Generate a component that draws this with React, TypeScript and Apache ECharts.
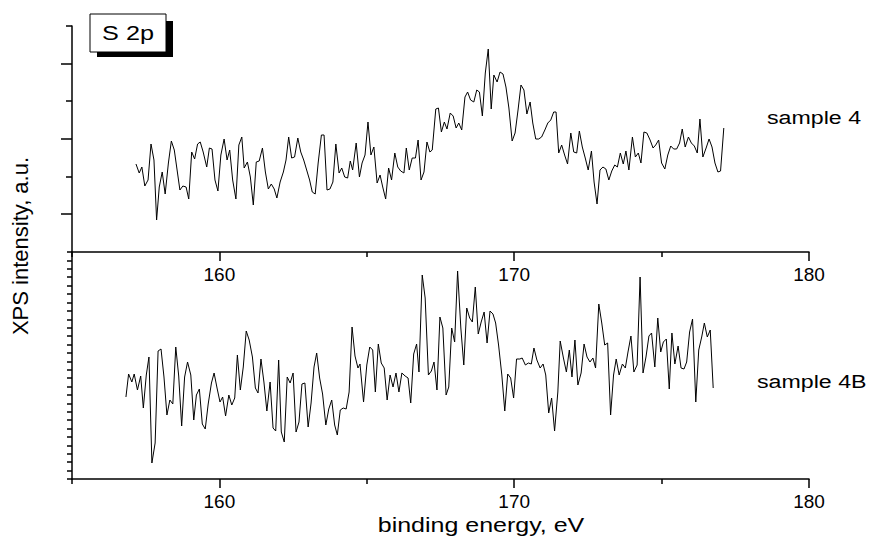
import React, { useEffect, useRef } from "react";
import * as echarts from "echarts";

// binding energy (eV), intensity (a.u.)
const sample4: [number, number][] = [
  [157.17, 88], [157.28, 79], [157.37, 85], [157.47, 66], [157.58, 72], [157.68, 108], [157.78, 92], [157.87, 32],
  [157.96, 65], [158.06, 80], [158.16, 58], [158.27, 89], [158.37, 111], [158.47, 102], [158.66, 62], [158.76, 66],
  [158.87, 65], [158.96, 53], [159.06, 100], [159.16, 93], [159.26, 108], [159.35, 110], [159.45, 100], [159.57, 85],
  [159.66, 104], [159.75, 103], [159.85, 72], [159.95, 61], [160.05, 97], [160.16, 113], [160.26, 92], [160.35, 102],
  [160.45, 72], [160.56, 53], [160.66, 107], [160.76, 115], [160.84, 84], [160.95, 90], [161.05, 75], [161.15, 47],
  [161.25, 90], [161.35, 91], [161.46, 104], [161.56, 80], [161.66, 63], [161.76, 68], [161.86, 63], [161.95, 54],
  [162.06, 70], [162.17, 80], [162.26, 92], [162.35, 115], [162.45, 94], [162.55, 95], [162.66, 114], [162.76, 100],
  [162.86, 92], [162.96, 82], [163.06, 72], [163.15, 60], [163.25, 58], [163.35, 89], [163.46, 117], [163.55, 117],
  [163.65, 62], [163.75, 63], [163.85, 70], [163.95, 108], [164.06, 79], [164.15, 84], [164.25, 75], [164.35, 74],
  [164.44, 91], [164.52, 82], [164.64, 109], [164.75, 75], [164.84, 89], [164.94, 97], [165.04, 130], [165.14, 97],
  [165.24, 105], [165.35, 69], [165.45, 77], [165.54, 65], [165.64, 53], [165.74, 84], [165.84, 72], [165.95, 99],
  [166.05, 85], [166.15, 81], [166.26, 79], [166.34, 104], [166.44, 82], [166.54, 94], [166.65, 94], [166.74, 112],
  [166.84, 72], [166.94, 80], [167.04, 110], [167.14, 100], [167.22, 102], [167.34, 143], [167.43, 144], [167.53, 120],
  [167.63, 130], [167.72, 123], [167.83, 139], [167.93, 136], [168.03, 124], [168.12, 129], [168.22, 122], [168.33, 155],
  [168.42, 160], [168.52, 152], [168.63, 150], [168.73, 162], [168.82, 160], [168.92, 136], [169.02, 179], [169.12, 203],
  [169.22, 143], [169.31, 177], [169.42, 170], [169.52, 180], [169.62, 178], [169.72, 165], [169.82, 144], [169.93, 111],
  [170.03, 119], [170.13, 142], [170.23, 167], [170.33, 162], [170.43, 138], [170.54, 150], [170.63, 129], [170.73, 113],
  [170.83, 113], [170.93, 115], [171.04, 122], [171.14, 129], [171.24, 132], [171.34, 140], [171.42, 140], [171.51, 99],
  [171.61, 107], [171.71, 97], [171.81, 88], [171.92, 119], [172.02, 100], [172.12, 99], [172.21, 121], [172.31, 105],
  [172.41, 94], [172.51, 82], [172.62, 101], [172.71, 70], [172.81, 48], [172.91, 82], [173.01, 85], [173.11, 83],
  [173.21, 72], [173.31, 81], [173.41, 87], [173.5, 85], [173.6, 99], [173.7, 88], [173.79, 101], [173.89, 82],
  [174.01, 115], [174.11, 95], [174.21, 99], [174.3, 89], [174.4, 120], [174.5, 119], [174.61, 112], [174.71, 104],
  [174.8, 107], [174.9, 112], [175.0, 89], [175.11, 83], [175.21, 97], [175.31, 106], [175.41, 103], [175.51, 103],
  [175.61, 109], [175.7, 123], [175.8, 105], [175.91, 115], [176.01, 109], [176.11, 106], [176.21, 99], [176.3, 133],
  [176.4, 95], [176.51, 104], [176.61, 113], [176.71, 105], [176.81, 89], [176.91, 80], [177.0, 81], [177.11, 124],
];

const sample4B: [number, number][] = [
  [156.83, 82], [156.92, 105], [157.03, 97], [157.11, 105], [157.22, 89], [157.33, 103], [157.42, 71], [157.52, 104],
  [157.61, 122], [157.71, 16], [157.82, 36], [157.92, 128], [158.02, 130], [158.12, 102], [158.22, 64], [158.32, 79],
  [158.42, 75], [158.52, 132], [158.62, 103], [158.72, 53], [158.82, 102], [158.92, 117], [159.03, 104], [159.13, 59],
  [159.22, 84], [159.32, 90], [159.42, 55], [159.52, 50], [159.62, 75], [159.73, 96], [159.82, 106], [159.92, 91],
  [160.02, 77], [160.11, 82], [160.21, 63], [160.32, 84], [160.42, 74], [160.52, 81], [160.61, 124], [160.71, 89],
  [160.81, 112], [160.91, 148], [161.01, 139], [161.12, 122], [161.22, 91], [161.31, 86], [161.41, 120], [161.51, 97],
  [161.61, 68], [161.72, 97], [161.82, 51], [161.91, 48], [162.01, 119], [162.1, 47], [162.2, 37], [162.3, 102],
  [162.4, 96], [162.5, 106], [162.6, 47], [162.7, 57], [162.8, 95], [162.9, 96], [163.01, 52], [163.11, 76],
  [163.21, 112], [163.3, 126], [163.4, 101], [163.5, 85], [163.61, 54], [163.71, 70], [163.81, 79], [163.91, 54],
  [164.0, 44], [164.1, 69], [164.2, 71], [164.3, 70], [164.4, 87], [164.5, 152], [164.6, 123], [164.7, 111],
  [164.77, 115], [164.89, 77], [165.0, 114], [165.1, 132], [165.2, 129], [165.29, 87], [165.39, 135], [165.49, 116],
  [165.59, 111], [165.69, 79], [165.79, 104], [165.89, 92], [165.99, 106], [166.09, 87], [166.19, 106], [166.3, 103],
  [166.4, 101], [166.49, 76], [166.59, 125], [166.69, 135], [166.77, 107], [166.88, 204], [166.98, 181], [167.09, 104],
  [167.19, 108], [167.28, 117], [167.38, 89], [167.48, 162], [167.58, 151], [167.69, 84], [167.78, 92], [167.88, 151],
  [167.98, 137], [168.08, 208], [168.19, 151], [168.29, 114], [168.39, 171], [168.49, 161], [168.58, 157], [168.68, 192],
  [168.78, 145], [168.88, 157], [168.98, 167], [169.08, 136], [169.18, 168], [169.28, 165], [169.37, 156], [169.47, 134],
  [169.58, 104], [169.68, 68], [169.78, 105], [169.88, 101], [169.98, 81], [170.08, 120], [170.19, 120], [170.27, 121],
  [170.38, 114], [170.48, 116], [170.58, 115], [170.67, 131], [170.77, 119], [170.88, 111], [170.98, 115], [171.07, 104],
  [171.17, 66], [171.27, 81], [171.37, 48], [171.48, 87], [171.56, 138], [171.67, 121], [171.77, 107], [171.87, 129],
  [171.96, 102], [172.06, 139], [172.16, 94], [172.27, 106], [172.37, 135], [172.47, 122], [172.57, 117], [172.67, 121],
  [172.76, 111], [172.87, 175], [172.97, 156], [173.07, 134], [173.17, 136], [173.27, 64], [173.37, 104], [173.46, 120],
  [173.56, 104], [173.67, 115], [173.77, 111], [173.86, 127], [173.96, 143], [174.06, 107], [174.17, 114], [174.27, 202],
  [174.37, 106], [174.47, 122], [174.57, 143], [174.66, 146], [174.77, 112], [174.87, 161], [174.97, 127], [175.06, 137],
  [175.16, 140], [175.26, 90], [175.35, 146], [175.45, 115], [175.56, 133], [175.66, 111], [175.76, 110], [175.85, 117],
  [175.95, 147], [176.05, 160], [176.16, 77], [176.26, 129], [176.36, 142], [176.45, 156], [176.55, 142], [176.65, 149],
  [176.75, 91],
];

const xMin = 155;
const xMax = 180;
const xMajorTicks = [160, 170, 180];
const xMinorTicks = [155, 165, 175];
const topYMax = 226;
const topYMajorTicks = [38, 113, 188];
const topYMinorTicks = [75, 151, 226];
const bottomYMax = 227;
const bottomYTickCount = 27;

const FONT = "Liberation Sans, Arial, sans-serif";

export default function App() {
  const ref = useRef<HTMLDivElement>(null);

  useEffect(() => {
    if (!ref.current) return;
    const chart = echarts.init(ref.current, null, { renderer: "svg" });

    const axisLine = { show: true, onZero: false, lineStyle: { color: "#000", width: 1.5 } };
    const mkX = (gridIndex: number, major: boolean) => ({
      gridIndex,
      type: "value",
      position: "bottom",
      min: xMin,
      max: xMax,
      axisLine: major ? axisLine : { show: false },
      axisTick: {
        show: true,
        inside: false,
        length: major ? 9 : 5,
        customValues: major ? xMajorTicks : xMinorTicks,
        lineStyle: { color: "#000", width: 1.5 },
      },
      axisLabel: major
        ? { show: true, customValues: xMajorTicks, fontSize: 19, color: "#000", fontFamily: FONT, margin: 13 }
        : { show: false },
      splitLine: { show: false },
    });

    const option: any = {
      animation: false,
      backgroundColor: "#fff",
      grid: [
        { left: 72, top: 26, width: 737, height: 226 },
        { left: 72, top: 252, width: 737, height: 227 },
      ],
      xAxis: [mkX(0, true), mkX(0, false), mkX(1, true), mkX(1, false)],
      yAxis: [
        {
          gridIndex: 0, type: "value", position: "left", min: 0, max: topYMax,
          axisLine,
          axisTick: { show: true, length: 11, customValues: topYMajorTicks, lineStyle: { color: "#000", width: 1.5 } },
          axisLabel: { show: false }, splitLine: { show: false },
        },
        {
          gridIndex: 0, type: "value", position: "left", min: 0, max: topYMax,
          axisLine: { show: false },
          axisTick: { show: true, length: 6, customValues: topYMinorTicks, lineStyle: { color: "#000", width: 1.5 } },
          axisLabel: { show: false }, splitLine: { show: false },
        },
        {
          gridIndex: 1, type: "value", position: "left", min: 0, max: bottomYMax,
          interval: bottomYMax / bottomYTickCount,
          axisLine,
          axisTick: { show: true, length: 5, lineStyle: { color: "#000", width: 1.5 } },
          axisLabel: { show: false }, splitLine: { show: false },
        },
      ],
      series: [
        {
          name: "sample 4", type: "line", xAxisIndex: 0, yAxisIndex: 0, data: sample4,
          showSymbol: false, lineStyle: { color: "#000", width: 1 }, silent: true,
        },
        {
          name: "sample 4B", type: "line", xAxisIndex: 2, yAxisIndex: 2, data: sample4B,
          showSymbol: false, lineStyle: { color: "#000", width: 1 }, silent: true,
        },
      ],
      graphic: [
        { type: "rect", shape: { x: 97, y: 21, width: 76, height: 36 }, style: { fill: "#000" } },
        { type: "rect", shape: { x: 90, y: 14, width: 76, height: 38 }, style: { fill: "#fff", stroke: "#000", lineWidth: 1 } },
        {
          type: "text", x: 128, y: 33, scaleX: 1.2,
          style: { text: "S 2p", font: `21px ${FONT}`, fill: "#000", textAlign: "center", textVerticalAlign: "middle" },
        },
        {
          type: "text", x: 767, y: 117, scaleX: 1.22,
          style: { text: "sample 4", font: `19px ${FONT}`, fill: "#000", textAlign: "left", textVerticalAlign: "middle" },
        },
        {
          type: "text", x: 757, y: 381, scaleX: 1.22,
          style: { text: "sample 4B", font: `19px ${FONT}`, fill: "#000", textAlign: "left", textVerticalAlign: "middle" },
        },
        {
          type: "text", x: 481, y: 525, scaleX: 1.25,
          style: { text: "binding energy, eV", font: `20px ${FONT}`, fill: "#000", textAlign: "center", textVerticalAlign: "middle" },
        },
        {
          type: "text", x: 20, y: 246, rotation: Math.PI / 2,
          style: { text: "XPS intensity, a.u.", font: `22px ${FONT}`, fill: "#000", textAlign: "center", textVerticalAlign: "middle" },
        },
      ],
    };

    chart.setOption(option);
    return () => chart.dispose();
  }, []);

  return <div ref={ref} style={{ position: "fixed", left: 0, top: 0, width: 884, height: 545, background: "#fff" }} />;
}
